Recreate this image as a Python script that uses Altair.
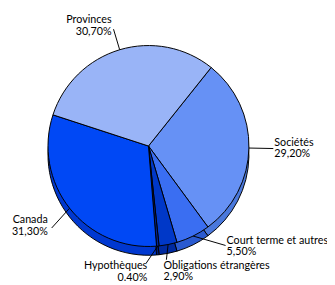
import math
import altair as alt
import pandas as pd

# ---- data ----
categories = ["Sociétés", "Court terme et autres", "Obligations étrangères",
              "Hypothèques", "Canada", "Provinces"]
values = [29.2, 5.5, 2.9, 0.4, 31.3, 30.7]
pct_labels = ["29,20%", "5,50%", "2,90%", "0.40%", "31,30%", "30,70%"]

# ---- styles / layout ----
top_colors = ["#6691f5", "#3a6ef2", "#0038c8", "#00249a", "#0048f5", "#99b4f7"]
side_colors = ["#4a78dc", "#2a5ad0", "#002aa0", "#001c78", "#0038d0", "#7d9ae0"]
lead_shift = [0, -11.4, 2.3, 6.4, -2, 0]      # degrees, leader end angle shift
lead_r = [128, 129, 118, 120, 130, 125]       # leader end radius
text_dx = [1, 1, -3, 1, -4, -2]
text_dy = [-3, -2, 9, 6, -5, -6]
text_align = ["left", "left", "left", "right", "right", "right"]

W, H = 327, 277
CX, CY = 144, 138
R = 103
DEPTH = 9
START = math.radians(38.6)

df = pd.DataFrame({
    "cat": categories,
    "value": values,
    "pct": pct_labels,
    "order": list(range(len(categories))),
    "shift": lead_shift,
    "lr": lead_r,
    "tdx": text_dx,
    "tdy": text_dy,
    "align": text_align,
})
df["label"] = df["cat"] + "\n" + df["pct"]

base = alt.Chart(df)

theta_enc = alt.Theta("value:Q", stack=True,
                      scale=alt.Scale(range=[START, START + 2 * math.pi]))
order_enc = alt.Order("order:O")

side = base.mark_arc(outerRadius=R, stroke="#000000", strokeWidth=1).encode(
    theta=theta_enc,
    order=order_enc,
    color=alt.Color("cat:N", scale=alt.Scale(domain=categories, range=side_colors), legend=None),
    x=alt.value(CX),
    y=alt.value(CY + DEPTH),
)

top = base.mark_arc(outerRadius=R, stroke="#000000", strokeWidth=1).encode(
    theta=theta_enc,
    order=order_enc,
    color=alt.Color("cat:N", scale=alt.Scale(domain=categories, range=top_colors), legend=None),
    x=alt.value(CX),
    y=alt.value(CY),
)

geo = base.transform_joinaggregate(
    total="sum(value)"
).transform_window(
    cum="sum(value)", sort=[alt.SortField("order")], frame=[None, 0]
).transform_calculate(
    th=f"{START} + 2*PI*(datum.cum - datum.value/2)/datum.total",
).transform_calculate(
    the="datum.th + datum.shift*PI/180",
).transform_calculate(
    x0=f"{R}*sin(datum.th)",
    y0=f"-{R}*cos(datum.th)",
    x1="datum.lr*sin(datum.the)",
    y1="-datum.lr*cos(datum.the)",
).transform_calculate(
    tx="datum.x1 + datum.tdx",
    ty="datum.y1 + datum.tdy",
)

xs = alt.Scale(domain=[-CX, W - CX], range=[0, W])
ys = alt.Scale(domain=[-CY, H - CY], range=[0, H])

leaders = geo.mark_rule(color="#000000", strokeWidth=1).encode(
    x=alt.X("x0:Q", scale=xs, axis=None),
    y=alt.Y("y0:Q", scale=ys, axis=None),
    x2="x1:Q",
    y2="y1:Q",
)

def text_layer(al):
    return geo.transform_filter(f"datum.align == '{al}'").mark_text(
        align=al, baseline="alphabetic", font="Lato", fontSize=11,
        lineBreak="\n", lineHeight=12, color="#000000",
    ).encode(
        x=alt.X("tx:Q", scale=xs, axis=None),
        y=alt.Y("ty:Q", scale=ys, axis=None),
        text="label:N",
    )

chart = alt.layer(side, top, leaders, text_layer("left"), text_layer("right")).properties(
    width=W, height=H, padding=0, autosize=alt.AutoSizeParams(type="none"),
).configure_view(stroke=None).resolve_scale(color="independent")

chart.save("out.html", embed_options={"renderer": "svg", "actions": False})
